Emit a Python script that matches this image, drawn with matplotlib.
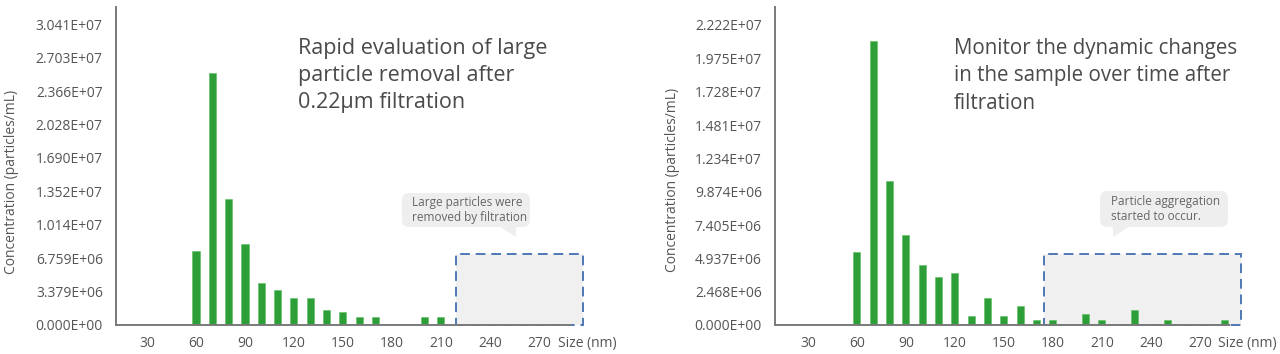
import matplotlib
matplotlib.use("Agg")
import matplotlib.pyplot as plt
from matplotlib.patches import Rectangle, Polygon, FancyBboxPatch

plt.rcParams['font.family'] = ['Open Sans', 'DejaVu Sans']

# ============ DATA ==============

# left panel: after 0.22um filtration
sizes_a = [60, 70, 80, 90, 100, 110, 120, 130, 140, 150, 160, 170, 200, 210]
conc_a = [7.49e6, 2.553e7, 1.278e7, 8.2e6, 4.25e6, 3.54e6, 2.76e6, 2.76e6,
          1.52e6, 1.35e6, 8.1e5, 8.1e5, 8.1e5, 8.1e5]
ylabels_a = ["0.000E+00", "3.379E+06", "6.759E+06", "1.014E+07", "1.352E+07",
             "1.690E+07", "2.028E+07", "2.366E+07", "2.703E+07", "3.041E+07"]

# right panel: sample over time after filtration
sizes_b = [60, 70, 80, 90, 100, 110, 120, 130, 140, 150, 160, 170, 180,
           200, 210, 230, 250, 285]
conc_b = [5.43e6, 2.10e7, 1.065e7, 6.65e6, 4.45e6, 3.53e6, 3.83e6, 7.0e5,
          2.0e6, 7.0e5, 1.38e6, 3.9e5, 3.9e5, 8.4e5, 3.9e5, 1.09e6, 3.9e5, 3.9e5]
ylabels_b = ["0.000E+00", "2.468E+06", "4.937E+06", "7.405E+06", "9.874E+06",
             "1.234E+07", "1.481E+07", "1.728E+07", "1.975E+07", "2.222E+07"]

xticks = [30, 60, 90, 120, 150, 180, 210, 240, 270]

title_a = "Rapid evaluation of large\nparticle removal after\n0.22μm filtration"
title_b = "Monitor the dynamic changes\nin the sample over time after\nfiltration"
note_a = "Large particles were\nremoved by filtration"
note_b = "Particle aggregation\nstarted to occur."

# ============ STYLE ==============
W, H = 1280, 354
GREEN = "#2e9f38"
AXIS = "#7a7a7a"
TXT = "#555555"
BOX_FC = "#f0f0f0"
BOX_EC = "#4f78b6"
BUBBLE = "#eeeeee"

fig = plt.figure(figsize=(W / 100, H / 100), dpi=100)
pix = fig.dpi_scale_trans  # 1 unit = 100 px


def p(x, y):
    # pixel (from top-left) -> inches for dpi_scale_trans
    return x / 100, (H - y) / 100


def panel(left_px, right_px, xlim, ytop, sizes, conc, ylabels, spine_end, box_x0, box_top):
    ax = fig.add_axes([left_px / W, (H - 325) / H, (right_px - left_px) / W, 318 / H])
    ax.bar(sizes, conc, width=4.3, color=GREEN, edgecolor="#5cbf5f", linewidth=0.4, zorder=3)
    ax.set_xlim(*xlim)
    ax.set_ylim(0, ytop)
    ax.set_yticks([float(s) for s in ylabels])
    ax.set_yticklabels(ylabels)
    ax.set_xticks(xticks)
    ax.set_xticklabels([str(t) for t in xticks])
    ax.tick_params(length=0, labelsize=10, colors=TXT)
    ax.tick_params(axis='y', pad=9.5)
    ax.tick_params(axis='x', pad=8)
    for s in ["top", "right"]:
        ax.spines[s].set_visible(False)
    for s in ["left", "bottom"]:
        ax.spines[s].set_color(AXIS)
        ax.spines[s].set_linewidth(1.4)
        ax.spines[s].set_zorder(4)
    ax.spines["bottom"].set_bounds(xlim[0], spine_end)
    # highlighted region
    ax.add_patch(Rectangle((box_x0, 0), xlim[1] - box_x0, box_top, facecolor=BOX_FC,
                           edgecolor=BOX_EC, linewidth=1.4, linestyle=(0, (5, 3)),
                           clip_on=False, zorder=1))
    return ax


ax1 = panel(116, 583, (11, 297), 3.218e7, sizes_a, conc_a, ylabels_a, 289, 219, 7.19e6)
ax2 = panel(775, 1241, (9.8, 295.2), 2.355e7, sizes_b, conc_b, ylabels_b, 288, 174.5, 5.26e6)

# axis labels
fig.text(12 / W, 1 - 182 / H, "Concentration (particles/mL)", rotation=90,
         ha="center", va="center", fontsize=10, color=TXT)
fig.text(672 / W, 1 - 180 / H, "Concentration (particles/mL)", rotation=90,
         ha="center", va="center", fontsize=10, color=TXT)
fig.text(587 / W, 1 - 343 / H, "Size (nm)", ha="center", va="center", fontsize=10, color=TXT)
fig.text(1247 / W, 1 - 343 / H, "Size (nm)", ha="center", va="center", fontsize=10, color=TXT)

# titles
fig.text(*p(298, 38), title_a, transform=pix, ha="left", va="top",
         fontsize=15.5, color="#4a4a4a", linespacing=1.36)
fig.text(*p(954, 38), title_b, transform=pix, ha="left", va="top",
         fontsize=14.8, color="#4a4a4a", linespacing=1.40)


# speech bubbles
def bubble(x0, y0, w, h, tail, text, tx):
    fig.add_artist(FancyBboxPatch(p(x0, y0 + h), w / 100, h / 100,
                                  boxstyle="round,pad=0,rounding_size=0.07",
                                  transform=pix, facecolor=BUBBLE, edgecolor="none"))
    fig.add_artist(Polygon([p(*pt) for pt in tail], closed=True, transform=pix,
                           facecolor=BUBBLE, edgecolor="none"))
    fig.text(*p(tx, y0 + h / 2), text, transform=pix, ha="left", va="center",
             fontsize=8.5, color="#666666", linespacing=1.25)


bubble(402, 193, 128, 34, [(499, 226), (516, 226), (516, 237)], note_a, 412)
bubble(1100, 191, 128, 36, [(1113, 226), (1130, 226), (1113, 237)], note_b, 1111)

fig.savefig("out.png", dpi=100)
